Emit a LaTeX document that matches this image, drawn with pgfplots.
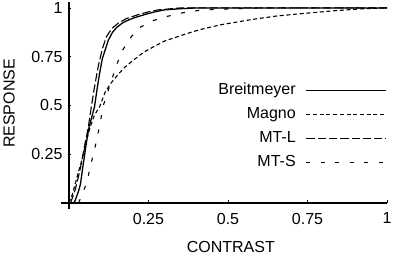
\documentclass[border=0pt]{standalone}
\usepackage{fontspec}
\setmainfont{Liberation Sans}
\usepackage{pgfplots}
\pgfplotsset{compat=1.18}
\newcommand{\lf}{\fontsize{16bp}{19bp}\selectfont}
\begin{document}
\begin{tikzpicture}
\path[use as bounding box] (-61bp,-46bp) rectangle (336bp,209bp);
\begin{axis}[
  at={(0,0)}, anchor=south west,
  scale only axis, width=326bp, height=207.3bp,
  xmin=-0.025, xmax=1, ymin=-0.031, ymax=1.032,
  axis x line=middle, axis y line=middle,
  axis line style={-, line width=1.2bp, black},
  xtick={0.25,0.5,0.75,1}, ytick={0.25,0.5,0.75,1},
  tick align=inside, major tick length=2.5bp,
  tick style={black, line width=0.8bp},
  /pgf/number format/assume math mode=true,
  tick label style={font=\lf},
  xticklabel style={yshift=-6.5bp},
  yticklabel style={xshift=-3bp},
  xlabel={CONTRAST}, ylabel={RESPONSE},
  every axis x label/.style={at={(axis description cs:0.521,-0.183)}, anchor=center, inner sep=0pt, font=\lf},
  every axis y label/.style={at={(axis description cs:-0.1595,0.509)}, rotate=90, anchor=center, inner sep=0pt, font=\lf},
  legend cell align=right, legend plot pos=right,
  legend image code/.code={\draw[#1] (0bp,0bp) -- (80bp,0bp);},
  legend style={draw=none, fill=none, at={(axis description cs:1,0.610)}, anchor=north east,
    inner sep=0pt, outer sep=0pt, column sep=10bp, row sep=8bp, font=\lf,
    nodes={inner sep=0pt, text height=12bp, text depth=4bp}},
]
\addplot[black, line width=1.3bp] coordinates {
(0.015,0) (0.02,0.015) (0.03,0.06) (0.036,0.095) (0.045,0.2) (0.055,0.31) (0.062,0.38)
(0.07,0.43) (0.08,0.49) (0.09,0.6) (0.097,0.67) (0.105,0.74) (0.115,0.79) (0.124,0.835)
(0.137,0.875) (0.15,0.9) (0.17,0.925) (0.19,0.94) (0.21,0.952) (0.24,0.967) (0.27,0.98)
(0.3,0.99) (0.35,0.996) (0.4,1) (1,1)};
\addlegendentry{Breitmeyer}
\addplot[black, line width=1.1bp, dash pattern=on 4bp off 2.7bp] coordinates {
(0,0) (0.01,0.04) (0.02,0.1) (0.03,0.16) (0.041,0.22) (0.055,0.32) (0.066,0.385) (0.08,0.45)
(0.097,0.495) (0.113,0.565) (0.13,0.61) (0.155,0.66) (0.175,0.695) (0.197,0.725) (0.234,0.772)
(0.265,0.80) (0.3,0.83) (0.37,0.868) (0.41,0.888) (0.475,0.913) (0.58,0.942) (0.65,0.958)
(0.726,0.97) (0.83,0.985) (0.915,0.995) (1,1)};
\addlegendentry{Magno}
\addplot[black, line width=1.1bp, dash pattern=on 8.3bp off 3bp] coordinates {
(0.005,0) (0.02,0.07) (0.035,0.17) (0.05,0.3) (0.06,0.38) (0.071,0.5) (0.082,0.61)
(0.092,0.7) (0.105,0.79) (0.118,0.853) (0.135,0.895) (0.155,0.922) (0.18,0.945) (0.218,0.966)
(0.25,0.98) (0.28,0.99) (0.35,1) (1,1)};
\addlegendentry{MT-L}
\addplot[black, line width=1.1bp, dash pattern=on 4bp off 10.5bp] coordinates {
(0.03,0) (0.041,0.04) (0.057,0.11) (0.067,0.186) (0.078,0.256) (0.088,0.33) (0.097,0.40)
(0.108,0.5) (0.129,0.605) (0.15,0.708) (0.166,0.776) (0.19,0.84) (0.218,0.896) (0.265,0.935)
(0.307,0.956) (0.36,0.976) (0.42,0.99) (0.506,0.995) (0.6,1) (1,1)};
\addlegendentry{MT-S}
\end{axis}
\end{tikzpicture}
\end{document}
